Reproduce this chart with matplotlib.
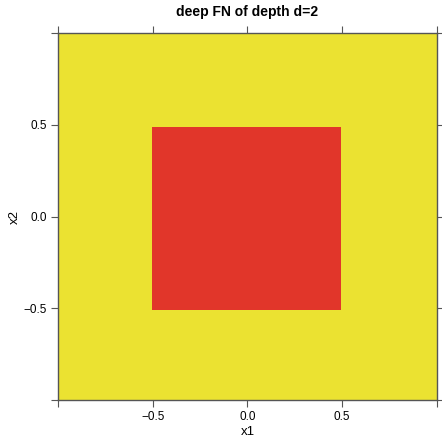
import matplotlib
matplotlib.use("Agg")
import matplotlib.pyplot as plt
import numpy as np
from matplotlib.colors import ListedColormap

plt.rcParams['font.family'] = ['Liberation Sans', 'DejaVu Sans']

# Data: cell edges and class values (0 = outside, 1 = inside square)
x_edges = [-1.0, -0.505, 0.495, 1.0]
y_edges = [-1.0, -0.51, 0.49, 1.0]
values = [[0, 0, 0],
          [0, 1, 0],
          [0, 0, 0]]
tick_values = [-1.0, -0.5, 0.0, 0.5, 1.0]
tick_labels = ["", "\u22120.5", "0.0", "0.5", ""]
title = "deep FN of depth d=2"

cmap = ListedColormap(["#EBE231", "#E1362A"])

fig = plt.figure(figsize=(4.42, 4.41), dpi=100)
ax = fig.add_axes([58/442, 1-400/441, (437-58)/442, (400-33)/441])
ax.pcolormesh(x_edges, y_edges, np.array(values), cmap=cmap, vmin=0, vmax=1,
              shading='flat')
ax.set_xlim(-1, 1)
ax.set_ylim(-1, 1)

ax.set_xticks(tick_values)
ax.set_xticklabels(tick_labels)
ax.set_yticks(tick_values)
ax.set_yticklabels(tick_labels)
ax.tick_params(axis='both', direction='out', length=5, width=0.8, color='#555555',
               labelsize=8.5, top=True, right=True, labeltop=False, labelright=False,
               pad=3)
for s in ax.spines.values():
    s.set_color('#555555')
    s.set_linewidth(1.0)

ax.set_xlabel("x1", fontsize=9.5, labelpad=2)
ax.set_ylabel("x2", fontsize=9.5, labelpad=2)
ax.set_title(title, fontsize=10, fontweight='bold', pad=12)

fig.savefig("out.png", dpi=100)
